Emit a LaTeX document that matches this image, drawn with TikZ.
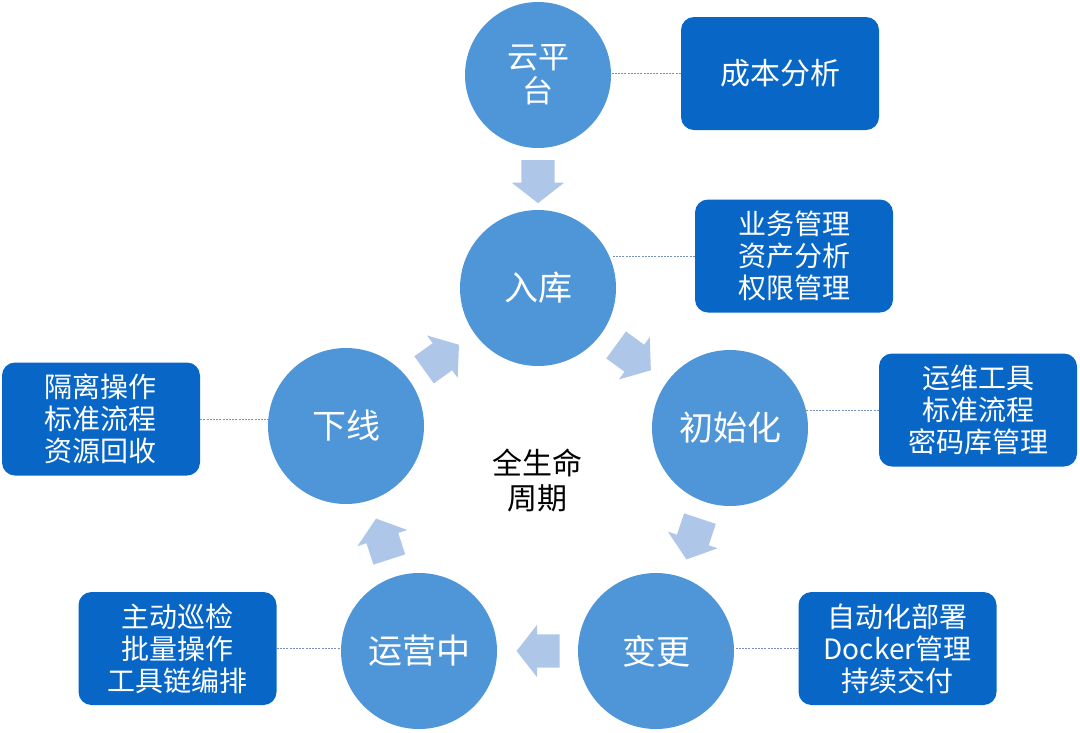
\documentclass[tikz,border=0pt]{standalone}
\usepackage{fontspec}
\setmainfont{Noto Sans CJK SC}
\usetikzlibrary{shapes.arrows,calc}
\definecolor{circc}{HTML}{4F96D8}
\definecolor{boxc}{HTML}{0867C6}
\definecolor{arrc}{HTML}{AEC6E8}
\definecolor{dotc}{HTML}{7391BA}
\begin{document}
\begin{tikzpicture}[x=1pt,y=-1pt,
  stage/.style={circle, fill=circc, draw=none, minimum size=156pt, inner sep=0pt,
    text=white, align=center, font=\fontsize{34}{40}\selectfont},
  infobox/.style={rectangle, rounded corners=13pt, fill=boxc, draw=none,
    minimum width=198pt, minimum height=113pt, inner sep=0pt,
    text=white, align=center, font=\fontsize{28}{32}\selectfont},
  flow/.style={single arrow, fill=arrc, draw=none, minimum height=43pt,
    inner xsep=0pt, inner ysep=16.5pt, single arrow head extend=9.5pt,
    single arrow tip angle=104, sloped, allow upside down, pos=0.47},
  link/.style={draw=dotc, line width=0.8pt, dash pattern=on 2pt off 1.2pt}
]
\useasboundingbox (0,0) rectangle (1080,732);

% stages
\node[stage, minimum size=146pt, font=\fontsize{31}{34}\selectfont] (cloud) at (538,75) {云平\\台};
\node[stage] (ruku) at (538,288) {入库};
\node[stage] (init) at (730,428) {初始化};
\node[stage] (chg) at (656,651) {变更};
\node[stage] (ops) at (419,651) {运营中};
\node[stage] (off) at (346,426) {下线};

% center label
\node[align=center, font=\fontsize{30}{35}\selectfont, text=black] (life) at (537,481) {全生命\\周期};

% info boxes
\node[infobox, font=\fontsize{30}{34}\selectfont] (b0) at (780,73.5) {成本分析};
\node[infobox] (b1) at (794,256) {业务管理\\资产分析\\权限管理};
\node[infobox] (b2) at (978,410) {运维工具\\标准流程\\密码库管理};
\node[infobox] (b3) at (897.5,648.5) {自动化部署\\Docker管理\\持续交付};
\node[infobox] (b4) at (177.5,648.5) {主动巡检\\批量操作\\工具链编排};
\node[infobox] (b5) at (101,419) {隔离操作\\标准流程\\资源回收};

% dotted links
\draw[link] (b0.west) -- (cloud.east |- b0.west);
\draw[link] (b1.west) -- ($(ruku.east |- b1.west)+(-3,0)$);
\draw[link] (b2.west) -- ($(init.east |- b2.west)+(-4,0)$);
\draw[link] (b3.west) -- ($(chg.east |- b3.west)+(-10,0)$);
\draw[link] (b4.east) -- ($(ops.west |- b4.east)+(2,0)$);
\draw[link] (b5.east) -- ($(off.west |- b5.east)+(2,0)$);

% flow arrows
\path (cloud.center) -- node[flow] (a0) {} (ruku.center);
\path (ruku.center) -- node[flow] (a1) {} (init.center);
\path (init.center) -- node[flow] (a2) {} (chg.center);
\path (chg.center) -- node[flow] (a3) {} (ops.center);
\path (ops.center) -- node[flow] (a4) {} (off.center);
\path (off.center) -- node[flow] (a5) {} (ruku.center);
\end{tikzpicture}
\end{document}
